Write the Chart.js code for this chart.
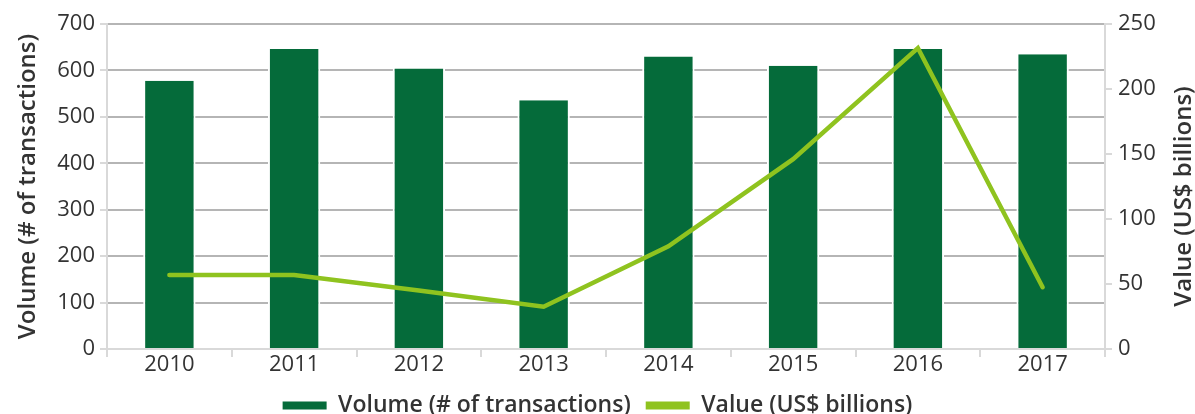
<!DOCTYPE html>
<html>
<head>
<meta charset="utf-8">
<script src="https://cdn.jsdelivr.net/npm/chart.js@4.4.1/dist/chart.umd.min.js"></script>
<style>
  html, body { margin: 0; padding: 0; background: #fff; }
  #wrap { width: 1195px; height: 414px; }
</style>
</head>
<body>
<div id="wrap"><canvas id="chart"></canvas></div>
<script>
const years = ['2010', '2011', '2012', '2013', '2014', '2015', '2016', '2017'];
const volume = [578, 646, 604, 536, 630, 610, 646, 635];
const value = [57, 57, 45, 32.5, 79, 146, 231.5, 47.5];
const volumeTicks = [0, 100, 200, 300, 400, 500, 600, 700];
const valueTicks = [0, 50, 100, 150, 200, 250];

const darkGreen = '#056b3a';
const lime = '#8fc31f';
const axisGray = '#d9d9d9';
const gridGray = '#b5b5b5';
const textColor = '#333333';
const titleFont = { family: '"Open Sans", sans-serif', size: 24, weight: '600' };

Chart.defaults.font.family = '"Open Sans", sans-serif';
Chart.defaults.color = textColor;

// right axis title reads bottom-to-top in the reference, so draw it like the left one
const rightTitle = {
  id: 'rightTitle',
  afterDraw(chart) {
    const { ctx, chartArea } = chart;
    ctx.save();
    ctx.translate(1184, (chartArea.top + chartArea.bottom) / 2 + 10);
    ctx.rotate(-Math.PI / 2);
    ctx.font = `${titleFont.weight} ${titleFont.size}px ${titleFont.family}`;
    ctx.fillStyle = textColor;
    ctx.textAlign = 'center';
    ctx.textBaseline = 'middle';
    ctx.fillText('Value (US$ billions)', 0, 0);
    ctx.restore();
  }
};

new Chart(document.getElementById('chart'), {
  type: 'bar',
  data: {
    labels: years,
    datasets: [
      {
        type: 'bar',
        label: 'Volume (# of transactions)',
        data: volume,
        backgroundColor: darkGreen,
        borderColor: '#ffffff',
        borderWidth: { left: 2, right: 2, top: 0, bottom: 0 },
        borderSkipped: false,
        barPercentage: 0.42,
        categoryPercentage: 1,
        yAxisID: 'y',
        order: 2
      },
      {
        type: 'line',
        label: 'Value (US$ billions)',
        data: value,
        borderColor: lime,
        backgroundColor: lime,
        borderWidth: 4.5,
        borderCapStyle: 'round',
        pointRadius: 0,
        tension: 0,
        yAxisID: 'y1',
        order: 1
      }
    ]
  },
  plugins: [rightTitle],
  options: {
    responsive: true,
    maintainAspectRatio: false,
    animation: false,
    layout: { padding: { top: 24, left: 0, right: 0, bottom: -13 } },
    plugins: {
      tooltip: { enabled: false },
      legend: {
        position: 'bottom',
        labels: {
          boxWidth: 44,
          boxHeight: 8,
          padding: 15,
          font: { size: 23, weight: '600' },
          color: textColor,
          sort: (a, b) => a.datasetIndex - b.datasetIndex,
          generateLabels: (chart) => chart.data.datasets.map((ds, i) => ({
            text: ds.label,
            fillStyle: ds.type === 'line' ? lime : darkGreen,
            strokeStyle: ds.type === 'line' ? lime : darkGreen,
            lineWidth: 0,
            datasetIndex: i,
            fontColor: textColor
          }))
        }
      }
    },
    scales: {
      x: {
        offset: true,
        grid: {
          offset: true,
          drawOnChartArea: false,
          drawTicks: true,
          tickLength: 8,
          tickColor: axisGray,
          lineWidth: 2
        },
        border: { color: axisGray, width: 2 },
        ticks: { font: { size: 22 }, color: textColor, padding: -5 },
        afterFit: (scale) => { scale.height = 30; }
      },
      y: {
        position: 'left',
        min: 0,
        max: 700,
        afterBuildTicks: (scale) => { scale.ticks = volumeTicks.map(v => ({ value: v })); },
        grid: {
          color: gridGray,
          lineWidth: 2,
          tickLength: 7,
          tickColor: axisGray
        },
        border: { color: axisGray, width: 2 },
        ticks: { font: { size: 22 }, color: textColor, padding: 5 },
        title: {
          display: true,
          text: 'Volume (# of transactions)',
          font: titleFont,
          color: textColor,
          padding: { top: 14, bottom: 0 }
        },
        afterFit: (scale) => { scale.width = 107; }
      },
      y1: {
        position: 'right',
        min: 0,
        max: 250,
        afterBuildTicks: (scale) => { scale.ticks = valueTicks.map(v => ({ value: v })); },
        grid: {
          drawOnChartArea: false,
          lineWidth: 2,
          tickLength: 7,
          tickColor: axisGray
        },
        border: { color: axisGray, width: 2 },
        ticks: { font: { size: 22 }, color: textColor, padding: 6 },
        afterFit: (scale) => { scale.width = 90; }
      }
    }
  }
});
</script>
</body>
</html>
